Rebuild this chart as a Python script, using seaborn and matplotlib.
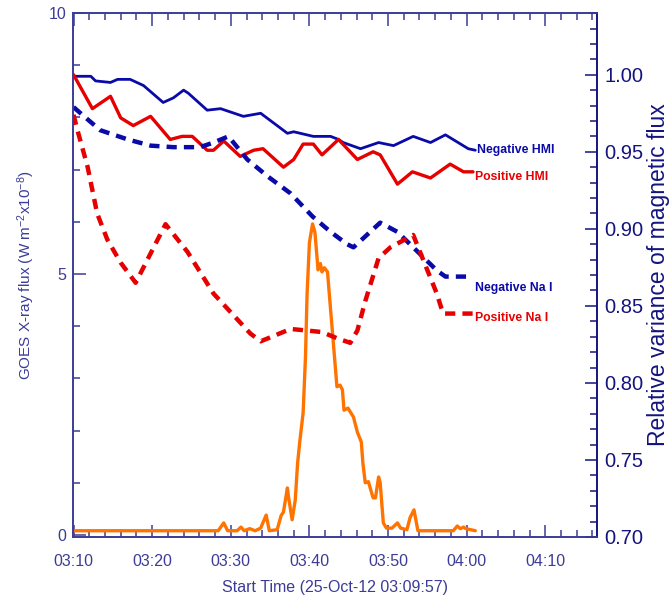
import numpy as np
import pandas as pd
import seaborn as sns
import matplotlib.pyplot as plt
from matplotlib.ticker import MultipleLocator

# minutes after 03:10 (start 03:09:57)
t_neg_hmi = [0, 2.2, 2.8, 4.7, 5.6, 7.2, 8.9, 11.4, 12.7, 14.0, 14.6, 17.0, 18.7, 21.6, 23.8,
             27.2, 28.0, 30.5, 32.7, 33.7, 34.3, 36.5, 38.8, 40.7, 43.2, 45.4, 47.3, 50.2, 51.1]
v_neg_hmi = [0.999, 0.999, 0.996, 0.995, 0.997, 0.997, 0.993, 0.982, 0.985, 0.990, 0.988, 0.977,
             0.978, 0.973, 0.975, 0.962, 0.963, 0.960, 0.960, 0.958, 0.956, 0.952, 0.956, 0.954,
             0.960, 0.956, 0.961, 0.952, 0.951]

t_pos_hmi = [0, 2.4, 4.7, 6.0, 7.6, 9.8, 12.3, 13.8, 15.1, 17.0, 17.8, 19.1, 21.2, 22.9, 24.1,
             26.7, 28.0, 29.2, 30.5, 31.6, 33.7, 36.1, 38.1, 39.0, 41.2, 43.1, 45.4, 47.9, 49.6, 50.8]
v_pos_hmi = [1.000, 0.978, 0.986, 0.972, 0.967, 0.973, 0.958, 0.960, 0.960, 0.951, 0.951, 0.957,
             0.947, 0.951, 0.952, 0.940, 0.945, 0.955, 0.955, 0.948, 0.958, 0.945, 0.950, 0.948,
             0.929, 0.937, 0.933, 0.942, 0.937, 0.937]

t_neg_na = [0, 1.8, 3.4, 6.9, 9.8, 12.7, 16.1, 17.8, 19.7, 22.1, 24.7, 27.6, 30.4, 32.7, 34.8,
            35.6, 39.0, 41.2, 43.2, 46.2, 47.3, 50.8]
v_neg_na = [0.979, 0.971, 0.964, 0.958, 0.954, 0.953, 0.953, 0.956, 0.960, 0.945, 0.934, 0.923,
            0.908, 0.898, 0.890, 0.888, 0.904, 0.898, 0.888, 0.873, 0.869, 0.869]

t_pos_na = [0, 0.5, 1.8, 3.0, 4.3, 6.0, 7.9, 11.7, 14.5, 17.8, 22.5, 23.8, 27.6, 29.7, 31.6,
            33.5, 35.2, 36.1, 37.1, 38.8, 40.3, 43.2, 46.2, 47.0, 50.8]
v_pos_na = [0.974, 0.964, 0.940, 0.910, 0.893, 0.878, 0.865, 0.903, 0.885, 0.858, 0.832, 0.827,
            0.835, 0.834, 0.833, 0.829, 0.826, 0.834, 0.853, 0.881, 0.888, 0.896, 0.858, 0.845,
            0.845]

t_goes = [0, 18.4, 19.1, 19.6, 20.8, 21.3, 21.7, 22.4, 23.1, 23.8, 24.5, 24.9, 25.9, 26.4, 26.7,
          27.2, 27.3, 27.8, 28.2, 28.5, 28.8, 29.2, 29.5, 29.7, 30.0, 30.4, 30.7, 31.1, 31.4,
          31.6, 31.9, 32.3, 33.5, 33.9, 34.2, 34.4, 34.9, 35.6, 36.1, 36.6, 36.8, 37.1, 37.5,
          38.1, 38.4, 38.8, 39.0, 39.4, 39.8, 40.5, 41.2, 41.6, 42.4, 42.8, 43.3, 43.8, 48.3,
          48.8, 49.2, 49.6, 49.9, 51.1]
v_goes = [0.08, 0.08, 0.23, 0.08, 0.08, 0.15, 0.08, 0.12, 0.08, 0.13, 0.38, 0.08, 0.10, 0.37, 0.44,
          0.90, 0.77, 0.29, 0.67, 1.38, 1.82, 2.34, 3.41, 4.6, 5.6, 5.96, 5.80, 5.08, 5.20,
          5.04, 5.12, 5.04, 2.84, 2.87, 2.78, 2.39, 2.43, 2.26, 1.97, 1.78, 1.38, 1.00, 1.02,
          0.71, 0.71, 1.11, 1.00, 0.23, 0.13, 0.13, 0.23, 0.13, 0.10, 0.33, 0.48, 0.08, 0.08,
          0.17, 0.12, 0.15, 0.12, 0.08]

tick_pos = [0, 10, 20, 30, 40, 50, 60]
tick_lab = ['03:10', '03:20', '03:30', '03:40', '03:50', '04:00', '04:10']

sns.set_style('ticks')
c_left = '#3c3c98'
c_right = '#14147e'
c_blue = '#0a0aa8'
c_red = '#e60000'
c_orange = '#ff7300'

plt.rcParams.update({
    'font.family': ['Liberation Sans', 'DejaVu Sans'],
    'mathtext.fontset': 'custom',
    'mathtext.rm': 'Liberation Sans',
    'mathtext.it': 'Liberation Sans',
    'xtick.direction': 'in', 'ytick.direction': 'in',
    'xtick.top': True, 'xtick.bottom': True,
    'xtick.major.size': 9, 'xtick.minor.size': 5,
    'ytick.major.size': 9, 'ytick.minor.size': 5,
    'xtick.major.width': 1.1, 'xtick.minor.width': 1.1,
    'ytick.major.width': 1.1, 'ytick.minor.width': 1.1,
    'xtick.minor.visible': True, 'ytick.minor.visible': True,
})

fig = plt.figure(figsize=(6.71, 5.96), dpi=100)
ax = fig.add_axes([0.109, 0.099, 0.781, 0.879])
ax2 = ax.twinx()

dash = (0, (2.3, 1.6))
sns.lineplot(x=t_goes, y=v_goes, ax=ax, color=c_orange, lw=2.4)
sns.lineplot(x=t_neg_hmi, y=v_neg_hmi, ax=ax2, color=c_blue, lw=2.0)
sns.lineplot(x=t_pos_hmi, y=v_pos_hmi, ax=ax2, color=c_red, lw=2.4)
sns.lineplot(x=t_neg_na, y=v_neg_na, ax=ax2, color=c_blue, lw=3.2, linestyle=dash)
sns.lineplot(x=t_pos_na, y=v_pos_na, ax=ax2, color=c_red, lw=3.2, linestyle=dash)

labels = [('Negative HMI', t_neg_hmi, v_neg_hmi, c_blue, 0),
          ('Positive HMI', t_pos_hmi, v_pos_hmi, c_red, -4),
          ('Negative Na I', t_neg_na, v_neg_na, c_blue, -8),
          ('Positive Na I', t_pos_na, v_pos_na, c_red, -3)]
for txt, tt, vv, cc, dy in labels:
    ax2.annotate(txt, xy=(tt[-1], vv[-1]), xytext=(1.5, dy), textcoords='offset points',
                 color=cc, fontsize=8.8, fontweight='bold', va='center', ha='left')

ax.set_xlim(-0.05, 66.6)
ax.set_ylim(-0.04, 10)
ax2.set_ylim(0.70, 1.04)

ax.set_xticks(tick_pos)
ax.set_xticklabels(tick_lab)
ax.xaxis.set_minor_locator(MultipleLocator(2))
ax.set_yticks([0, 5, 10])
ax.yaxis.set_minor_locator(MultipleLocator(1))
ax2.set_yticks([0.70, 0.75, 0.80, 0.85, 0.90, 0.95, 1.00])
ax2.set_yticklabels(['0.70', '0.75', '0.80', '0.85', '0.90', '0.95', '1.00'])
ax2.yaxis.set_minor_locator(MultipleLocator(0.01))

ax.xaxis.set_ticks_position('both')
ax.tick_params(axis='x', which='both', direction='in', colors=c_left, labelsize=11.5, pad=12)
ax.tick_params(axis='y', which='both', direction='in', left=True, right=False,
               colors=c_left, labelsize=11.5, pad=5)
ax2.tick_params(axis='y', which='both', direction='in', right=True, left=False,
                colors=c_right, labelsize=14.5, pad=5)

for s in ['left', 'bottom', 'top']:
    ax.spines[s].set_color(c_left)
    ax2.spines[s].set_color(c_left)
ax2.spines['right'].set_color(c_right)
ax.spines['right'].set_color(c_right)
for a in (ax, ax2):
    for s in a.spines.values():
        s.set_linewidth(1.2)

ax.set_xlabel('Start Time (25-Oct-12 03:09:57)', color=c_left, fontsize=11.5, labelpad=8)
ax.set_ylabel('GOES X-ray flux (W m$^{-2}$x10$^{-8}$)', color=c_left, fontsize=11, labelpad=8)
ax2.set_ylabel('Relative variance of magnetic flux', color=c_right, fontsize=16.5)
ax2.yaxis.set_label_coords(1.095, 0.5)

fig.savefig('out.png', dpi=100)
